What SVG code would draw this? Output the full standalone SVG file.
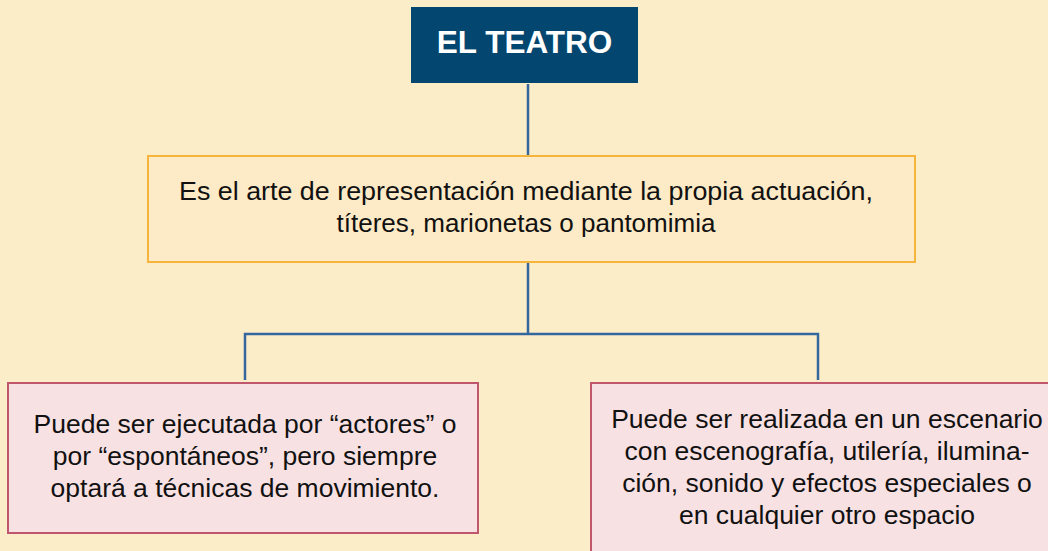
<svg xmlns="http://www.w3.org/2000/svg" width="1048" height="551" viewBox="0 0 1048 551">
<style>
.conn{fill:none;stroke:#34679e;stroke-width:2.5}
.pink{fill:#f8e1e3;stroke:#c0566e;stroke-width:2}
.txt{font-family:"Liberation Sans",Arial,sans-serif;fill:#111;text-anchor:middle}
</style>
<rect x="0" y="0" width="1048" height="551" fill="#fcedc9"/>
<g id="connectors">
<line class="conn" x1="528" y1="84" x2="528" y2="155"/>
<line class="conn" x1="528" y1="262" x2="528" y2="334"/>
<polyline class="conn" points="245,380 245,334 818,334 818,380"/>
</g>
<g id="title">
<rect x="411" y="7" width="227" height="76" fill="#03466f"/>
<text x="524.5" y="53" font-family="Liberation Sans,Arial,sans-serif" font-weight="bold" font-size="31.5" fill="#fff" text-anchor="middle">EL TEATRO</text>
</g>
<g id="definition">
<rect x="148" y="156" width="767" height="106" fill="#fdeac6" stroke="#f7b43b" stroke-width="2"/>
<text class="txt" font-size="25" x="526" y="200" textLength="694" lengthAdjust="spacingAndGlyphs">Es el arte de representación mediante la propia actuación,</text>
<text class="txt" font-size="25" x="526" y="232" textLength="379" lengthAdjust="spacingAndGlyphs">títeres, marionetas o pantomimia</text>
</g>
<g id="performers">
<rect class="pink" x="8" y="383" width="470" height="150"/>
<text class="txt" font-size="26.5"><tspan x="245" y="433">Puede ser ejecutada por “actores” o</tspan><tspan x="245" y="465">por “espontáneos”, pero siempre</tspan><tspan x="245" y="497">optará a técnicas de movimiento.</tspan></text>
</g>
<g id="venue">
<rect class="pink" x="591" y="383" width="472" height="180"/>
<text class="txt" font-size="26.5"><tspan x="827" y="428">Puede ser realizada en un escenario</tspan><tspan x="827" y="460">con escenografía, utilería, ilumina-</tspan><tspan x="827" y="492">ción, sonido y efectos especiales o</tspan><tspan x="827" y="524">en cualquier otro espacio</tspan></text>
</g>
</svg>
